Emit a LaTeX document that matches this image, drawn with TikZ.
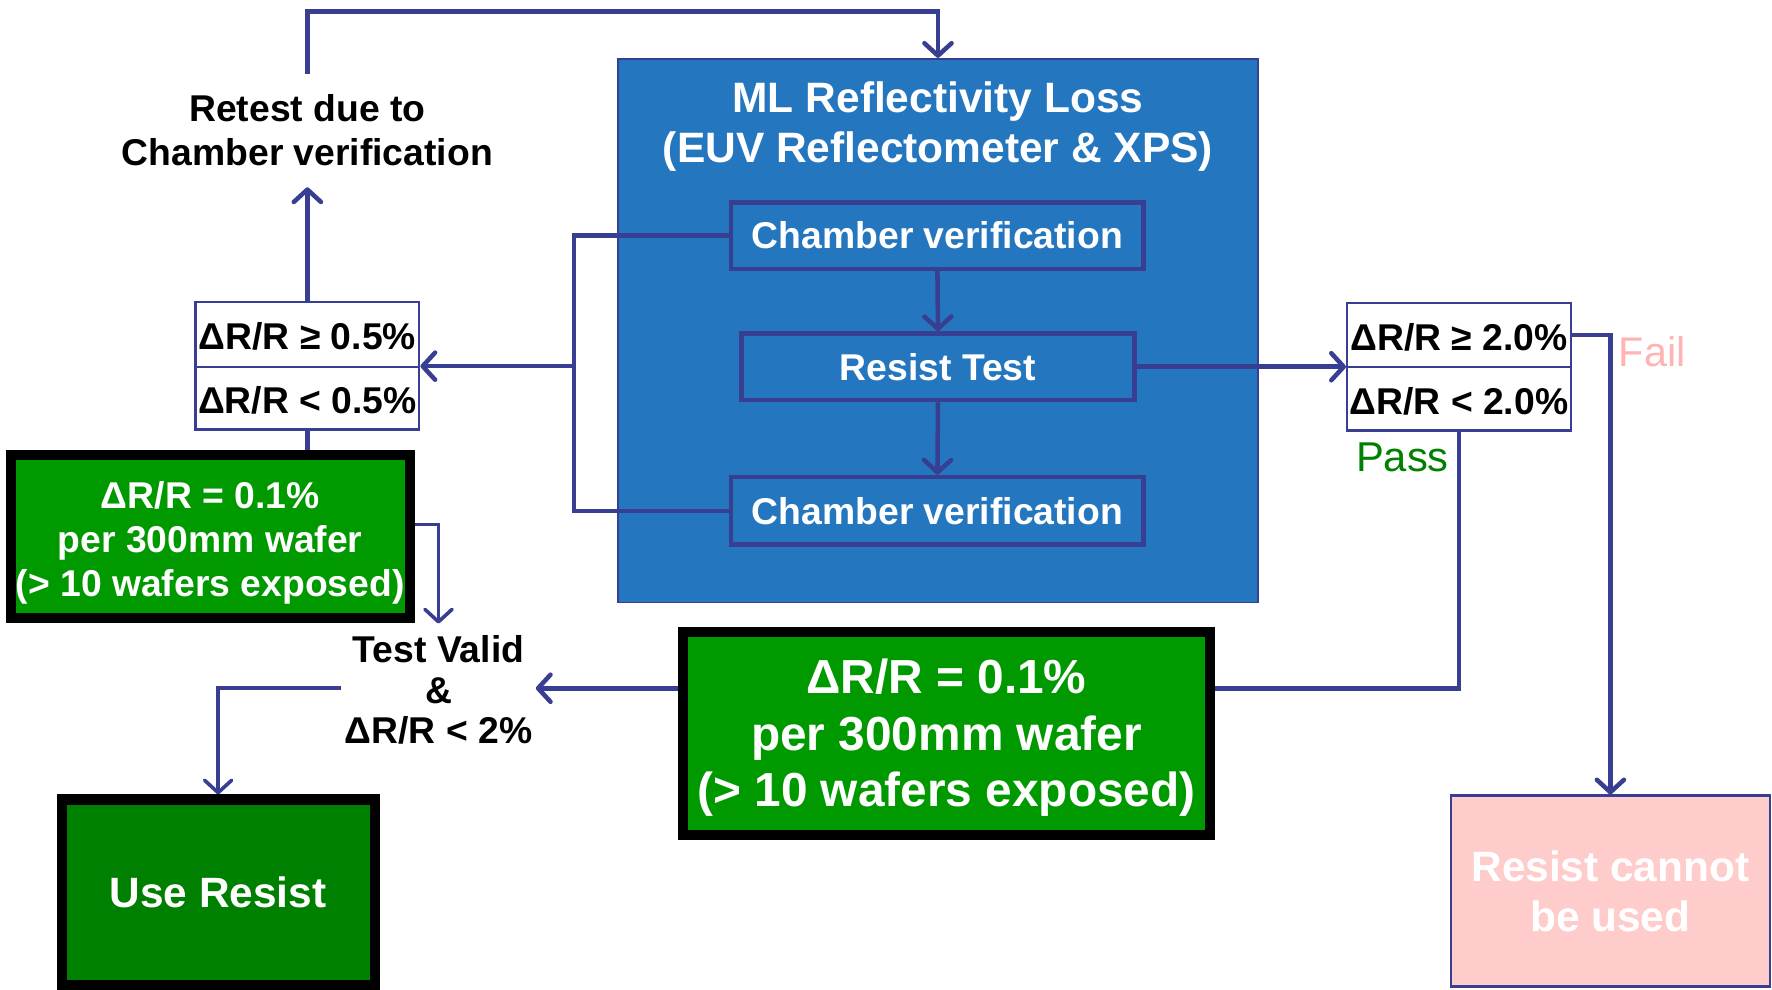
\documentclass[tikz,border=0pt]{standalone}
\usepackage{fontspec}
\setmainfont{Liberation Sans}
\usetikzlibrary{arrows.meta}
\definecolor{navy}{RGB}{56,62,146}
\definecolor{mlblue}{RGB}{36,119,190}
\definecolor{grn}{RGB}{0,153,0}
\definecolor{dgrn}{RGB}{0,128,0}
\definecolor{pinkfill}{RGB}{255,204,204}
\definecolor{failpink}{RGB}{255,179,179}
\definecolor{passgreen}{RGB}{0,128,0}
\begin{document}
\begin{tikzpicture}[x=1pt,y=-1pt,
  conn/.style={draw=navy, line width=4pt},
  arr/.style={conn, -{Straight Barb[length=11pt,width=24pt,round]}},
  thinarr/.style={arr, line width=3.2pt},
  fmid/.style={font=\fontsize{33}{39}\selectfont\bfseries},
  cond/.style={fmid, draw=navy, line width=2pt, fill=white, minimum width=198pt, inner sep=0pt, text height=31pt, text depth=4pt},
  inbox/.style={fmid, text=white, draw=navy, line width=4pt, fill=mlblue, inner sep=0pt},
  greenbox/.style={draw=black, line width=9pt, fill=grn, inner sep=0pt},
  boxtext/.style={text=white, align=center, inner sep=0pt},
  plain/.style={inner sep=0pt, align=center}]
\useasboundingbox (0,0) rectangle (1568,876);
\coordinate (topy) at (0,10);
\coordinate (rowA) at (0,609);
\coordinate (rowB) at (0,464);
\coordinate (lj) at (508,324);

% big blue box
\node[draw=navy, line width=1.5pt, fill=mlblue, minimum width=566pt, minimum height=481pt, inner sep=0pt] (ml) at (830,292.5) {};
\node[plain, text=white, font=\fontsize{37.6}{44}\selectfont\bfseries] (mltitle) at (830,112) {ML Reflectivity Loss\\(EUV Reflectometer \& XPS)};
\node[inbox, minimum width=365pt, minimum height=59pt] (cv1) at (829.5,208.5) {Chamber verification};
\node[inbox, minimum width=348pt, minimum height=59pt] (rt) at (830,324.5) {Resist Test};
\node[inbox, minimum width=365pt, minimum height=60pt] (cv2) at (829.5,452) {Chamber verification};

% left conditions
\node[cond, minimum height=58pt] (c05) at (272,296) {ΔR/R ≥ 0.5\%};
\node[cond, minimum height=55pt] (l05) at (272,352.5) {ΔR/R < 0.5\%};
% right conditions
\node[cond, minimum height=57pt] (c20) at (1291,296.5) {ΔR/R ≥ 2.0\%};
\node[cond, minimum height=56pt] (l20) at (1291,353) {ΔR/R < 2.0\%};

% retest text
\node[plain, fmid, minimum height=100pt] (retest) at (272,115.5) {Retest due to\\Chamber verification};

% green boxes
\node[greenbox, minimum width=353pt, minimum height=144pt] (g1) at (186,474.5) {};
\node[boxtext, font=\fontsize{33}{39}\selectfont\bfseries] (g1t) at (186,480) {ΔR/R = 0.1\%\\per 300mm wafer\\(> 10 wafers exposed)};
\node[greenbox, minimum width=466pt, minimum height=179pt] (g2) at (837.5,649) {};
\node[boxtext, font=\fontsize{42.3}{50}\selectfont\bfseries] (g2t) at (837.5,653) {ΔR/R = 0.1\%\\per 300mm wafer\\(> 10 wafers exposed)};
\node[greenbox, fill=dgrn, text=white, font=\fontsize{37.5}{44}\selectfont\bfseries, minimum width=277pt, minimum height=164pt] (use) at (193,789.5) {Use Resist};

% test valid
\node[plain, font=\fontsize{33}{36}\selectfont\bfseries, inner xsep=3pt, minimum height=117pt] (tv) at (388,610.5) {Test Valid\\\&\\ΔR/R < 2\%};

% pink box
\node[draw=navy, line width=2pt, fill=pinkfill, text=white, align=center, inner sep=0pt, minimum width=282pt, minimum height=169pt, font=\fontsize{37.5}{44}\selectfont\bfseries] (bad) at (1425,788.5) {Resist cannot\\be used};

% labels
\node[plain, text=failpink, font=\fontsize{36.6}{40}\selectfont] (fail) at (1462,311) {Fail};
\node[plain, text=passgreen, font=\fontsize{36.9}{40}\selectfont] (pass) at (1241,405) {Pass};

% connectors
\draw[arr] (retest.north) -- (retest.north |- topy) -| (ml.north);
\draw[arr] (c05.north) -- (retest.south);
\draw[arr] (cv1.south) -- (rt.north);
\draw[arr] (rt.south) -- (cv2.north);
\draw[conn] (cv1.west) -| (lj) |- (cv2.west);
\draw[arr] (lj) -- (lj -| c05.east);
\draw[arr] (rt.east) -- (rt.east -| c20.west);
\draw[arr] (c20.east) -| (bad.north);
\draw[conn] (l20.south) |- (g2.east |- rowA);
\draw[arr] (g2.west |- rowA) -- (tv.east |- rowA);
\draw[conn] (l05.south) -- (l05.south |- g1.north);
\draw[thinarr] (g1.east |- rowB) -| (tv.north);
\draw[thinarr] (tv.west |- rowA) -| (use.north);
\end{tikzpicture}
\end{document}
